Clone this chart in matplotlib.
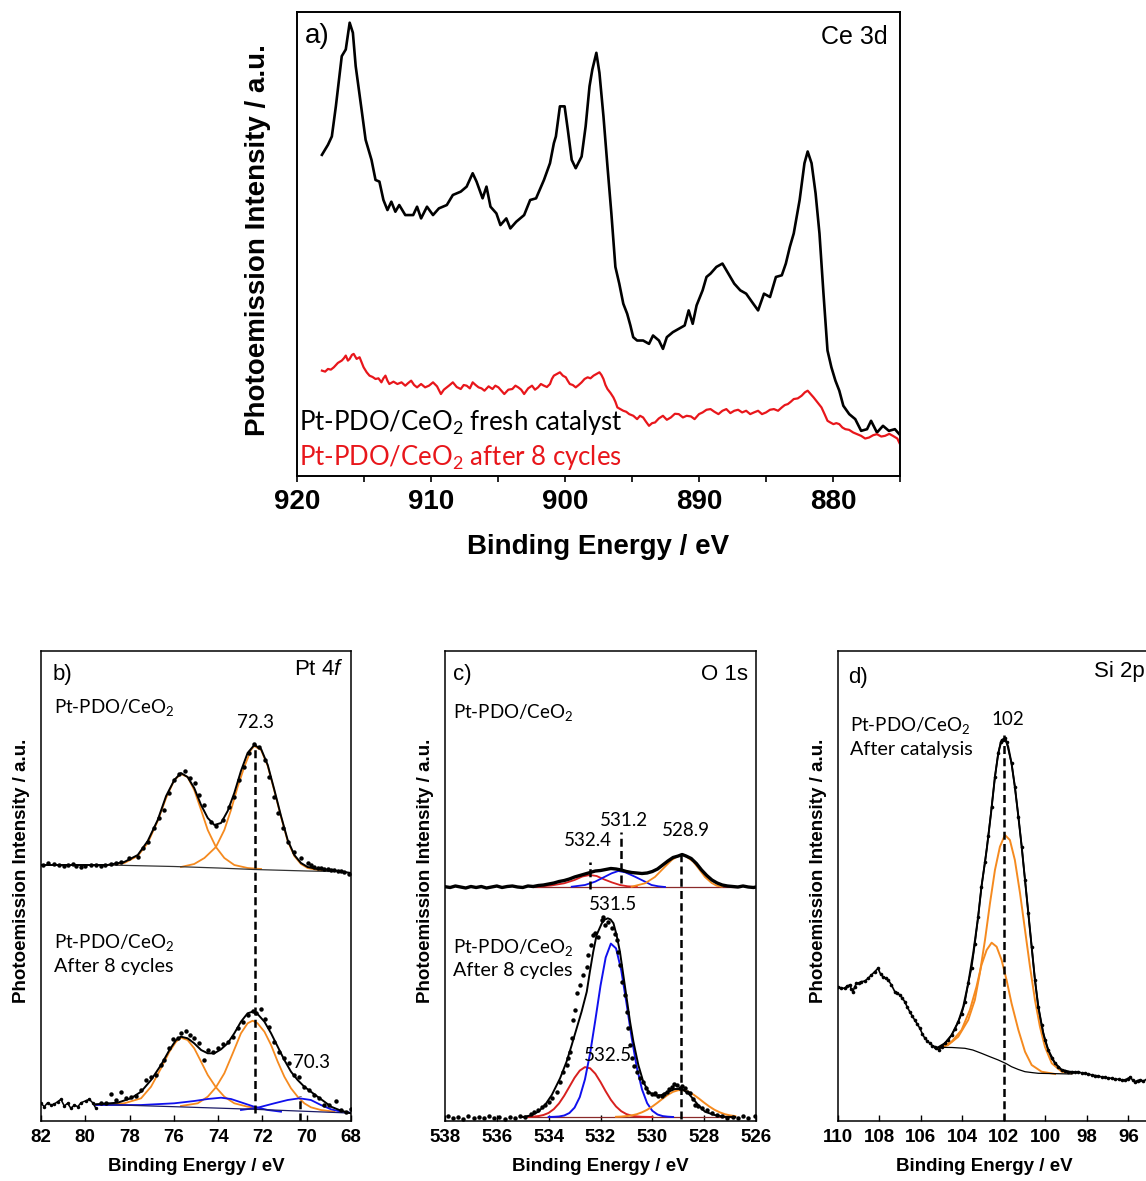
import matplotlib
matplotlib.use("Agg")
import matplotlib.pyplot as plt
from matplotlib.ticker import MultipleLocator

plt.rcParams['font.family'] = ['Liberation Sans', 'DejaVu Sans']
plt.rcParams['mathtext.fontset'] = 'custom'
plt.rcParams['mathtext.rm'] = 'Lato'
plt.rcParams['mathtext.it'] = 'Liberation Sans:italic'
plt.rcParams['mathtext.bf'] = 'Lato:bold'

# ---------------- Panel a: Ce 3d ----------------
ce_fresh = [(918.14,960),(917.69,990),(917.40,1015),(917.10,1105),(916.66,1255),(916.36,1275),(916.07,1355),
 (915.83,1325),(915.62,1225),(915.18,1095),(914.88,1005),(914.44,945),(914.14,885),(913.85,880),(913.55,825),
 (913.25,795),(912.96,820),(912.66,790),(912.37,810),(911.92,780),(911.33,780),(911.04,805),(910.74,770),
 (910.30,805),(909.85,780),(909.41,800),(908.82,810),(908.37,840),(907.78,850),(907.34,865),(906.89,905),
 (906.60,880),(906.15,830),(905.86,865),(905.56,805),(905.12,785),(904.82,750),(904.38,770),(904.08,740),
 (903.64,760),(903.05,780),(902.60,825),(902.16,830),(901.57,885),(901.12,935),(900.83,995),(900.68,1015),
 (900.38,1105),(900.03,1105),(899.79,1035),(899.50,945),(899.20,920),(898.76,955),(898.46,1045),(898.17,1165),
 (897.96,1215),(897.66,1265),(897.43,1205),(897.13,1075),(896.83,925),(896.54,785),(896.24,625),(895.95,575),
 (895.65,515),(895.36,485),(895.12,450),(894.91,415),(894.62,405),(894.17,405),(893.73,395),(893.43,420),
 (892.99,405),(892.69,380),(892.40,415),(891.95,430),(891.51,440),(891.07,450),(890.77,495),(890.47,455),
 (890.18,510),(889.73,555),(889.44,595),(889.14,605),(888.70,625),(888.25,635),(887.81,605),(887.37,575),
 (886.92,555),(886.48,545),(886.04,520),(885.59,495),(885.15,545),(884.70,535),(884.26,595),(883.82,600),
 (883.52,635),(883.22,685),(882.93,725),(882.49,825),(882.13,935),(881.89,970),(881.60,935),(881.30,845),
 (881.01,725),(880.71,545),(880.41,375),(880.12,325),(879.82,285),(879.53,255),(879.23,210),(878.79,185),
 (878.34,170),(877.90,135),(877.46,140),(877.16,165),(876.72,130),(876.27,150),(875.83,135),(875.38,140),
 (874.94,120)]
ce_aged = [(918.14,315),(917.9,312),(917.69,320),(917.47,318),(917.25,325),(916.95,338),(916.66,345),(916.5,352),
 (916.36,360),(916.2,345),(916.07,350),(915.9,362),(915.77,365),(915.55,350),(915.33,355),(915.18,340),(915.03,325),
 (914.8,310),(914.59,300),(914.36,296),(914.14,290),(913.92,292),(913.70,280),(913.55,292),(913.40,300),(913.25,285),
 (913.11,275),(912.8,282),(912.51,275),(912.2,280),(911.92,270),(911.7,278),(911.48,285),(911.26,272),(911.04,265),
 (910.74,275),(910.44,265),(910.15,270),(909.85,280),(909.55,268),(909.26,245),(909.04,258),(908.82,265),(908.6,272),
 (908.37,280),(908.08,266),(907.78,260),(907.56,272),(907.34,270),(907.1,262),(906.89,280),(906.67,272),(906.45,265),
 (906.23,262),(906.01,255),(905.7,268),(905.41,260),(905.2,270),(904.97,265),(904.75,255),(904.53,245),(904.23,258),
 (903.93,260),(903.7,270),(903.49,265),(903.27,258),(903.05,245),(902.75,262),(902.46,270),(902.24,258),(902.01,265),
 (901.8,275),(901.57,270),(901.35,266),(901.12,275),(900.98,290),(900.83,300),(900.6,305),(900.38,310),(900.16,300),
 (899.94,295),(899.8,285),(899.64,275),(899.42,272),(899.20,265),(898.98,272),(898.76,280),(898.54,290),(898.31,295),
 (898.1,292),(897.87,300),(897.65,305),(897.43,310),(897.28,302),(897.13,290),(896.98,272),(896.83,260),(896.6,248),
 (896.39,235),(896.24,222),(896.09,205),(895.87,200),(895.65,195),(895.43,192),(895.21,185),(894.9,180),(894.62,170),
 (894.4,180),(894.17,175),(893.95,162),(893.73,150),(893.5,158),(893.28,160),(893.0,172),(892.69,180),(892.4,168),
 (892.10,175),(891.8,186),(891.51,185),(891.2,175),(890.92,180),(890.6,178),(890.33,170),(890.0,185),(889.73,190),
 (889.44,198),(889.14,200),(888.85,192),(888.55,185),(888.25,195),(887.96,200),(887.66,188),(887.37,195),(887.08,198),
 (886.78,190),(886.48,195),(886.18,185),(885.9,190),(885.59,195),(885.3,185),(885.00,190),(884.7,198),(884.41,200),
 (884.1,195),(883.82,205),(883.6,212),(883.37,215),(883.15,222),(882.93,230),(882.63,232),(882.34,240),(882.1,250),
 (881.89,255),(881.67,245),(881.45,235),(881.15,220),(880.86,205),(880.63,185),(880.41,165),(880.2,160),(879.97,155),
 (879.75,158),(879.53,155),(879.3,145),(879.08,140),(878.8,138),(878.49,130),(878.2,125),(877.90,120),(877.6,112),
 (877.31,115),(877.0,122),(876.72,125),(876.4,118),(876.12,120),(875.8,126),(875.53,120),(875.2,112),(874.94,90)]
ce_ticks = [920, 910, 900, 890, 880]

# ---------------- Panel b: Pt 4f ----------------
pt_fresh_data = [(81.92,248),(81.70,250),(81.40,249),(81.20,248),(80.95,247),(80.80,248),(80.57,249),(80.40,247),
 (80.19,246),(80.00,247),(79.74,248),(79.50,248),(79.29,247),(79.10,248),(78.84,249),(78.60,250),(78.39,251),
 (78.01,255),(77.63,256),(77.41,265),(77.18,271),(76.88,285),(76.66,295),(76.46,303),(76.20,320),(75.98,333),
 (75.75,339),(75.50,342),(75.26,335),(75.05,330),(74.85,318),(74.62,308),(74.32,291),(74.10,287),(73.80,293),
 (73.49,306),(73.27,316),(73.04,333),(72.82,346),(72.59,360),(72.37,369),(72.14,366),(71.88,353),(71.69,336),
 (71.46,316),(71.31,300),(71.09,285),(70.86,271),(70.56,261),(70.26,255),(69.96,250),(69.80,248),(69.66,246),
 (69.50,245),(69.36,245),(69.20,244),(69.05,244),(68.90,243),(68.75,243),(68.60,242),(68.45,242),(68.30,241),
 (68.08,239)]
pt_fresh_fit = [(82.0,248),(80.5,248),(79.0,248),(78.24,251),(77.63,258),(77.18,272),(76.73,293),(76.35,317),
 (75.98,333),(75.68,340),(75.38,336),(75.08,325),(74.77,308),(74.47,295),(74.17,288),(73.87,290),(73.57,302),
 (73.27,320),(72.97,342),(72.67,360),(72.37,368),(72.06,364),(71.76,348),(71.46,323),(71.16,297),(70.86,273),
 (70.56,258),(70.26,250),(69.96,246),(69.51,244),(68.90,243),(68.00,240)]
pt_fresh_comp1 = [(79.0,248),(78.24,250),(77.63,257),(77.18,270),(76.73,292),(76.35,315),(75.98,333),(75.68,339),
 (75.38,336),(75.08,323),(74.77,303),(74.47,283),(74.10,266),(73.72,255),(73.27,248),(72.67,245),(72.06,244)]
pt_fresh_comp2 = [(75.68,246),(75.08,249),(74.62,255),(74.10,266),(73.72,283),(73.42,303),(73.12,326),(72.82,346),
 (72.52,363),(72.37,367),(72.06,363),(71.76,347),(71.46,322),(71.16,296),(70.86,272),(70.56,257),(70.26,249),
 (69.96,245),(69.51,243),(68.90,242)]
pt_fresh_base = [(79.0,248),(76.0,246.5),(74.0,245),(72.37,243.5),(70.0,242),(68.9,241.5)]

pt_aged_data = [(82.00,9.7),(81.85,6.3),(81.70,10.3),(81.55,8),(81.40,9),(81.25,11.3),(81.10,13.7),(80.95,7),
 (80.80,9.7),(80.65,4.7),(80.49,8),(80.34,6.3),(80.19,10.3),(79.97,12.3),(79.82,13.7),(79.67,10.3),(79.52,4.7),
 (79.29,10.3),(79.06,9.7),(78.84,19),(78.61,13),(78.39,21.3),(78.16,14.7),(77.94,16.3),(77.71,17),(77.48,23),
 (77.26,33),(77.03,35.7),(76.81,38),(76.58,48),(76.43,53),(76.20,64.7),(76.05,73.7),(75.83,74.7),(75.68,79.7),
 (75.45,82.3),(75.26,78),(75.08,75.3),(74.85,69.7),(74.62,53),(74.47,63),(74.25,61.3),(74.02,64.7),(73.80,69),
 (73.57,71.3),(73.34,76.3),(73.12,84.7),(72.89,91.3),(72.67,98),(72.44,102.3),(72.29,100.3),(72.06,104.3),
 (71.88,93.7),(71.69,85.7),(71.46,71.3),(71.24,61.3),(71.01,54.7),(70.79,49.7),(70.56,38),(70.33,35.7),
 (70.11,26.3),(69.88,23),(69.66,18),(69.43,14.7),(69.20,8),(68.98,8),(68.68,12),(68.45,3),(68.23,1.3),(68.00,3.7)]
pt_aged_fit = [(79.52,8.7),(78.54,10.3),(77.94,14.7),(77.48,21.3),(77.03,33),(76.58,48),(76.20,63),(75.90,73),
 (75.68,76.3),(75.38,74.7),(75.08,69.7),(74.77,63),(74.47,59.7),(74.17,59.7),(73.87,63.7),(73.57,69.7),
 (73.27,79.7),(72.97,91.3),(72.67,99.7),(72.44,101.3),(72.22,99),(71.91,91.3),(71.61,79.7),(71.31,66.3),
 (71.01,53),(70.71,41.3),(70.41,33),(70.11,26.3),(69.81,21.3),(69.51,16.3),(69.20,11.3),(68.90,6.3),
 (68.45,2.3),(68.00,-0.3)]
pt_aged_comp1 = [(79.52,8),(78.24,9.7),(77.48,14.7),(77.03,26.3),(76.58,44.7),(76.20,61.3),(75.90,71.3),
 (75.68,75.3),(75.38,73),(75.08,64.7),(74.77,51.3),(74.47,38),(74.10,25.7),(73.72,16.3),(73.27,9.7),
 (72.67,6.3),(72.06,4.7)]
pt_aged_comp2 = [(75.68,7),(74.92,9.7),(74.47,16.3),(74.10,25.7),(73.72,39.7),(73.34,59.7),(72.97,79.7),
 (72.67,89.7),(72.44,92.3),(72.22,89.7),(71.91,81.3),(71.61,68),(71.31,51.3),(71.01,36.3),(70.71,24.7),
 (70.41,16.3),(70.11,9.7),(69.81,5.7),(69.36,3),(68.75,1.3)]
pt_aged_metal1 = [(79.52,8),(77.48,8),(75.98,9.7),(75.08,12),(74.47,14),(73.87,15.3),(73.42,14),(72.97,10.7),
 (72.37,6.3),(71.76,3),(71.16,1.3)]
pt_aged_metal2 = [(72.97,3),(72.22,5.3),(71.46,9.7),(70.86,13),(70.33,14.7),(69.81,13),(69.36,8),(68.90,3.7),
 (68.45,1.3),(68.00,0.3)]
pt_aged_base = [(79.52,8.7),(75.98,6.3),(72.37,3.7),(68.45,0.3),(68.00,-0.3)]
pt_peak_main = 72.35
pt_peak_metal = 70.3

# ---------------- Panel c: O 1s ----------------
o_fresh_data = [(538.00,223.3),(537.80,222.5),(537.60,224),(537.40,223),(537.20,222),(537.00,223.5),(536.80,222.5),
 (536.60,223.5),(536.40,222),(536.20,223),(536.00,224),(535.80,222.5),(535.60,223.5),(535.40,224),(535.20,223),
 (535.00,222.5),(534.80,224),(534.60,223.5),(534.40,224.5),(534.20,225),(534.00,226),(533.80,227),(533.60,228.5),
 (533.40,229.5),(533.20,231),(533.00,233),(532.80,234.5),(532.60,236),(532.40,237.5),(532.20,239),(532.00,239.5),
 (531.80,240.5),(531.60,241.5),(531.40,241),(531.20,240),(531.00,238.5),(530.80,237.5),(530.60,237),(530.40,236.5),
 (530.20,237),(530.00,238.5),(529.80,241),(529.60,245),(529.40,249),(529.20,252.5),(529.00,254),(528.85,255.5),
 (528.70,254),(528.50,251.5),(528.30,246.5),(528.10,240),(527.90,234.5),(527.70,230),(527.50,227),(527.30,225),
 (527.10,224),(526.90,223.5),(526.70,223),(526.50,224),(526.30,223),(526.10,222.5),(526.00,223)]
o_fresh_red = [(534.4,223.3),(533.9,224.5),(533.4,226.7),(533.0,230),(532.7,233.5),(532.41,235),(532.15,234),
 (531.85,230.5),(531.55,227.5),(531.25,225),(530.95,223.7),(530.6,223.2)]
o_fresh_blue = [(533.11,223.3),(532.60,225),(532.21,228.3),(531.83,233.3),(531.57,236.7),(531.31,239),(531.05,237.7),
 (530.67,233.3),(530.28,228.3),(530.03,225),(529.77,223.7),(529.51,223)]
o_fresh_orange = [(530.80,223.3),(530.28,226.7),(529.90,233),(529.51,243.3),(529.25,250),(529.00,254),(528.84,255),
 (528.68,253.3),(528.42,248.3),(528.23,242),(527.97,233),(527.71,227),(527.52,224.3),(527.32,223.3)]
o_fresh_base = [(534.6,223),(526.6,223)]

o_aged_data = [(537.9,-6),(537.7,-8),(537.5,-7),(537.3,-9),(537.1,-6),(536.9,-8),(536.7,-7),(536.5,-8),(536.3,-6),
 (536.1,-8),(535.9,-7),(535.7,-9),(535.5,-7),(535.3,-8),(535.1,-6),(534.9,-7),(534.7,-4),(534.55,-2),(534.40,0),
 (534.27,3),(534.14,5),(534.0,8),(533.88,11.7),(533.69,18.3),(533.56,28.3),(533.43,38.3),(533.31,45),(533.24,51.7),
 (533.18,58.3),(533.10,72),(533.05,90),(532.98,100),(532.92,116.7),(532.79,125),(532.66,135),(532.53,143),
 (532.47,155),(532.35,165),(532.28,175),(532.21,176.7),(532.08,173.3),(531.95,190),(531.89,193.3),(531.83,185),
 (531.70,188),(531.57,181.7),(531.45,176),(531.38,170),(531.31,158.3),(531.25,145),(531.18,128.3),(531.05,115),
 (530.99,98.3),(530.95,81.7),(530.86,65),(530.80,51.7),(530.70,44),(530.60,38.3),(530.48,32),(530.35,28.3),
 (530.25,22),(530.15,18.3),(530.02,16),(529.90,16.7),(529.77,14),(529.64,14.3),(529.55,16),(529.45,18.3),
 (529.35,21),(529.25,23.3),(529.15,26),(529.06,25),(528.93,21.7),(528.84,24),(528.74,21.7),(528.65,18),
 (528.55,16.7),(528.45,11),(528.35,5),(528.22,4),(528.10,1.7),(527.9,0),(527.7,-3),(527.52,-5),(527.3,-6),
 (527.1,-8),(526.9,-7),(526.7,-8),(526.5,-6),(526.3,-8),(526.05,-6)]
o_aged_fit = [(535.0,-7),(534.7,-5.5),(534.40,-1.7),(534.14,5),(533.88,15),(533.56,31.7),(533.31,48.3),(533.11,65),
 (532.92,81.7),(532.73,98.3),(532.53,118.3),(532.41,138.3),(532.28,158.3),(532.15,175),(531.95,186.7),(531.84,190.3),
 (531.72,191.7),(531.61,190.5),(531.50,186.7),(531.38,175),(531.25,158.3),(531.12,135),(530.99,111.7),(530.86,88.3),
 (530.73,68.3),(530.54,45),(530.35,28.3),(530.15,18.3),(529.90,14.3),(529.64,15),(529.38,18.3),(529.13,21),
 (528.87,21),(528.61,16.7),(528.23,5),(527.97,-1.7),(527.6,-5),(527.2,-6.8),(526.8,-7)]
o_aged_red = [(535.0,-7.0),(534.8,-6.9),(534.6,-6.6),(534.4,-6.1),(534.2,-5.0),(534.0,-2.9),(533.8,0.9),(533.6,6.6),
 (533.4,14.3),(533.2,23.3),(533.0,32.3),(532.8,39.4),(532.6,42.9),(532.4,41.7),(532.2,36.3),(532.0,28.0),
 (531.8,18.7),(531.6,10.2),(531.4,3.5),(531.2,-1.2),(531.0,-4.1),(530.8,-5.7),(530.6,-6.4),(530.4,-6.8),
 (530.2,-6.9),(530.0,-7.0)]
o_aged_blue = [(534.0,-7.0),(533.8,-6.85),(533.6,-6.5),(533.4,-5.5),(533.2,-3.0),(533.0,2.4),(532.8,12.9),(532.6,30.6),
 (532.4,56.8),(532.2,89.8),(532.0,124.3),(531.8,152.5),(531.6,166.4),(531.4,161.6),(531.2,139.8),(531.0,107.3),
 (530.8,72.7),(530.6,42.7),(530.4,20.7),(530.2,6.8),(530.0,-0.8),(529.8,-4.5),(529.6,-6.1),(529.4,-6.7),(529.2,-7.0)]
o_aged_orange = [(531.4,-6.8),(531.2,-6.6),(531.0,-6.1),(530.8,-5.4),(530.6,-4.2),(530.4,-2.3),(530.2,0.2),(530.0,3.5),
 (529.8,7.3),(529.6,11.4),(529.4,15.2),(529.2,18.2),(529.0,19.8),(528.8,19.8),(528.6,18.2),(528.4,15.2),
 (528.2,11.4),(528.0,7.3),(527.8,3.5),(527.6,0.2),(527.4,-2.3),(527.2,-4.2),(527.0,-5.4),(526.8,-6.1)]
o_aged_base = [(534.8,-7.0),(526.8,-7.0)]
o_peaks_fresh = [532.4, 531.2, 528.9]

# ---------------- Panel d: Si 2p ----------------
si_data = [(110.00,133.3),(109.84,132),(109.68,131.7),(109.56,134),(109.44,135),(109.36,131),(109.28,128.3),
 (109.20,133),(109.11,136.7),(109.00,137),(108.87,138.3),(108.70,139),(108.55,141.7),(108.39,145),(108.23,148.3),
 (108.07,151.7),(107.95,146),(107.83,143.3),(107.70,142),(107.58,140),(107.42,135),(107.26,128.3),(107.14,127),
 (107.02,125),(106.90,122),(106.78,118.3),(106.66,113),(106.54,108.3),(106.42,104),(106.30,100),(106.18,96),
 (106.05,91.7),(105.93,86),(105.81,81.7),(105.69,79),(105.57,76.7),(105.45,74.5),(105.33,73.3),(105.25,71.7),
 (105.15,70.5),(104.98,73.5),(104.85,76.7),(104.68,80),(104.52,85),(104.36,91),(104.20,98.3),(104.04,106),
 (103.88,118),(103.72,136.7),(103.56,152),(103.40,176),(103.24,203.3),(103.08,233.3),(102.91,258),(102.75,284),
 (102.59,313),(102.43,343.3),(102.27,367),(102.15,378),(102.05,380),(101.95,382),(101.87,378),(101.63,356.7),
 (101.47,333.3),(101.30,303.3),(101.14,273.3),(100.98,240),(100.82,206.7),(100.66,173.3),(100.50,140),
 (100.34,113.3),(100.18,95),(100.02,80),(99.86,70),(99.70,62),(99.53,56.7),(99.37,53),(99.21,50),(99.05,49.5),
 (98.89,48.5),(98.73,48.3),(98.57,48),(98.41,48.3),(98.25,47),(98.08,46.7),(97.92,46),(97.76,45),(97.60,44.5),
 (97.44,44),(97.28,43),(97.12,42.7),(96.96,42),(96.80,41.7),(96.64,41),(96.47,40.7),(96.31,40),(96.15,40),
 (96.03,41.5),(95.91,42.7),(95.79,40),(95.67,38.3),(95.55,39.5),(95.43,40),(95.27,39),(95.12,40.7),(95.00,39)]
si_fit = [(105.25,71.7),(104.85,76.7),(104.52,85),(104.20,98.3),(103.96,113.3),(103.72,136.7),(103.48,166.7),
 (103.24,203.3),(103.08,233.3),(102.83,270),(102.62,306.7),(102.43,343.3),(102.27,366.7),(102.11,380),
 (101.95,381.7),(101.79,373.3),(101.63,356.7),(101.47,333.3),(101.30,303.3),(101.14,273.3),(100.98,240),
 (100.82,206.7),(100.66,173.3),(100.50,140),(100.34,113.3),(100.10,86.7),(99.86,70),(99.53,56.7),(99.21,50),
 (98.73,47.3)]
si_comp1 = [(105.17,71.7),(104.69,75),(104.20,83.3),(103.72,100),(103.40,120),(103.16,146.7),(102.91,180),
 (102.67,216.7),(102.43,250),(102.19,273.3),(101.95,285),(101.71,280),(101.47,260),(101.22,226.7),(100.98,190),
 (100.74,153.3),(100.50,120),(100.26,93.3),(100.02,73.3),(99.69,56.7),(99.21,48.3),(98.73,46.7)]
si_comp2 = [(105.17,71.7),(104.52,78.3),(104.04,90),(103.64,110),(103.32,133.3),(103.08,155),(102.83,170),
 (102.59,177.3),(102.35,173.3),(102.11,160),(101.87,140),(101.63,116.7),(101.30,90),(100.98,68.3),(100.66,55),
 (100.18,48.3),(99.53,46)]
si_base = [(105.25,72.7),(104.5,72.5),(103.88,71.7),(103.5,70),(103.08,66.7),(102.7,63.5),(102.27,60),(101.9,56.5),
 (101.63,53.3),(101.3,50.5),(100.98,48.3),(100.6,47.3),(100.34,46.7),(98.73,46)]
si_peak = 102.0

# ---------------- styling ----------------
W, H = 1146, 1181
BLACK = 'black'
RED_A = '#e8161b'
ORANGE = '#f58a1f'
BLUE = '#1010ee'
RED_C = '#d8201f'
LATO = ['Lato', 'DejaVu Sans']
ARIAL = ['Liberation Sans', 'DejaVu Sans']

fig = plt.figure(figsize=(W / 100, H / 100), dpi=100)


def add_ax(l, t, r, b):
    return fig.add_axes([l / W, 1 - b / H, (r - l) / W, (b - t) / H])


def xs(p):
    return [q[0] for q in p]


def ys(p):
    return [q[1] for q in p]


def bold_ticks(ax):
    for lbl in ax.get_xticklabels():
        lbl.set_fontweight('bold')
        lbl.set_family(ARIAL)


# Panel a
axa = add_ax(297, 12, 900, 476)
axa.plot(xs(ce_fresh), ys(ce_fresh), color=BLACK, lw=1.9)
axa.plot(xs(ce_aged), ys(ce_aged), color=RED_A, lw=1.6)
axa.set_xlim(920, 875)
axa.set_ylim(0, 1387)
axa.set_xticks(ce_ticks)
axa.xaxis.set_minor_locator(MultipleLocator(5))
axa.tick_params(axis='x', which='both', direction='out', length=4.5, width=1.2, labelsize=20, pad=5, top=False)
axa.set_yticks([])
for s in axa.spines.values():
    s.set_linewidth(1.4)
bold_ticks(axa)
axa.text(-0.065, 0.509, 'Photoemission Intensity / a.u.', rotation=90, ha='center', va='center',
         transform=axa.transAxes, fontsize=20, fontweight='bold', family=ARIAL)
axa.text(0.499, -0.152, 'Binding Energy / eV', ha='center', va='center', transform=axa.transAxes,
         fontsize=20, fontweight='bold', family=ARIAL)
axa.text(0.013, 0.933, 'a)', transform=axa.transAxes, fontsize=20, family=ARIAL, ha='left', va='baseline')
axa.text(0.980, 0.931, 'Ce 3d', transform=axa.transAxes, fontsize=18, family=ARIAL, ha='right', va='baseline')
axa.text(0.003, 0.099, 'Pt-PDO/CeO$_2$ fresh catalyst', transform=axa.transAxes, fontsize=18.5, family=LATO,
         ha='left', va='baseline', color=BLACK)
axa.text(0.003, 0.024, 'Pt-PDO/CeO$_2$ after 8 cycles', transform=axa.transAxes, fontsize=18.5, family=LATO,
         ha='left', va='baseline', color=RED_A)


def style_bottom(ax, xlim, ylim):
    ax.set_xlim(*xlim)
    ax.set_ylim(*ylim)
    ax.xaxis.set_major_locator(MultipleLocator(2))
    ax.tick_params(axis='x', which='both', direction='in', length=4, width=1.0, labelsize=13.5, pad=6, top=False)
    ax.set_yticks([])
    for s in ax.spines.values():
        s.set_linewidth(1.1)
    bold_ticks(ax)
    ax.text(-0.062, 0.532, 'Photoemission Intensity / a.u.', rotation=90, ha='center', va='center',
            transform=ax.transAxes, fontsize=13.5, fontweight='bold', family=ARIAL)


DASH = dict(color=BLACK, lw=1.8, ls=(0, (3.2, 1.7)))
PANEL_FS = 16
NOTE_FS = 13.5
NOTE2_FS = 14.2

# Panel b
axb = add_ax(41, 651, 351, 1121)
for comp in (pt_fresh_comp1, pt_fresh_comp2, pt_aged_comp1, pt_aged_comp2):
    axb.plot(xs(comp), ys(comp), color=ORANGE, lw=1.3)
for comp in (pt_aged_metal1, pt_aged_metal2):
    axb.plot(xs(comp), ys(comp), color=BLUE, lw=1.3)
axb.plot(xs(pt_fresh_base), ys(pt_fresh_base), color='#333333', lw=0.9)
axb.plot(xs(pt_aged_base), ys(pt_aged_base), color='#1a1a66', lw=0.9)
axb.plot(xs(pt_fresh_fit), ys(pt_fresh_fit), color=BLACK, lw=1.4)
axb.plot(xs(pt_aged_fit), ys(pt_aged_fit), color=BLACK, lw=1.4)
axb.plot(xs(pt_fresh_data), ys(pt_fresh_data), 'o', color=BLACK, ms=3.2, mew=0)
axb.plot(xs(pt_aged_data)[:17], ys(pt_aged_data)[:17], '-o', color=BLACK, lw=1.1, ms=2.5, mew=0)
axb.plot(xs(pt_aged_data)[17:], ys(pt_aged_data)[17:], 'o', color=BLACK, ms=3.2, mew=0)
axb.plot([pt_peak_main, pt_peak_main], [0, 369], **DASH)
axb.plot([pt_peak_metal, pt_peak_metal], [-8, 17], **DASH)
style_bottom(axb, (82, 68), (-8, 462))
axb.text(0.5, -0.096, 'Binding Energy / eV', ha='center', va='center', transform=axb.transAxes,
         fontsize=13.5, fontweight='bold', family=ARIAL)
axb.text(0.038, 0.938, 'b)', transform=axb.transAxes, fontsize=PANEL_FS, family=ARIAL, va='baseline')
axb.text(0.975, 0.949, r'Pt 4$\mathit{f}$', transform=axb.transAxes, fontsize=PANEL_FS, family=ARIAL, ha='right',
         va='baseline')
axb.text(0.043, 0.868, 'Pt-PDO/CeO$_2$', transform=axb.transAxes, fontsize=NOTE_FS, family=LATO, va='baseline')
axb.text(0.6935, 0.836, '72.3', transform=axb.transAxes, fontsize=NOTE_FS, family=LATO, ha='center', va='baseline')
axb.text(0.043, 0.368, 'Pt-PDO/CeO$_2$', transform=axb.transAxes, fontsize=NOTE_FS, family=LATO, va='baseline')
axb.text(0.043, 0.318, 'After 8 cycles', transform=axb.transAxes, fontsize=NOTE2_FS, family=LATO, va='baseline')
axb.text(0.873, 0.1134, '70.3', transform=axb.transAxes, fontsize=NOTE_FS, family=LATO, ha='center', va='baseline')

# Panel c
axc = add_ax(445, 651, 756, 1121)
axc.plot(xs(o_fresh_base), ys(o_fresh_base), color='#8a2a2a', lw=0.9)
axc.plot(xs(o_aged_base), ys(o_aged_base), color='#8a2a2a', lw=0.9)
axc.plot(xs(o_fresh_red), ys(o_fresh_red), color=RED_C, lw=1.3)
axc.plot(xs(o_fresh_blue), ys(o_fresh_blue), color=BLUE, lw=1.3)
axc.plot(xs(o_fresh_orange), ys(o_fresh_orange), color=ORANGE, lw=1.3)
axc.plot(xs(o_fresh_data), ys(o_fresh_data), '-', color=BLACK, lw=2.4)
axc.plot(xs(o_aged_red), ys(o_aged_red), color=RED_C, lw=1.4)
axc.plot(xs(o_aged_blue), ys(o_aged_blue), color=BLUE, lw=1.4)
axc.plot(xs(o_aged_orange), ys(o_aged_orange), color=ORANGE, lw=1.4)
axc.plot(xs(o_aged_fit), ys(o_aged_fit), color=BLACK, lw=1.4)
axc.plot(xs(o_aged_data), ys(o_aged_data), 'o', color=BLACK, ms=3.2, mew=0)
axc.plot([o_peaks_fresh[0]] * 2, [220.7, 248.3], **DASH)
axc.plot([o_peaks_fresh[1]] * 2, [226.7, 278.3], **DASH)
axc.plot([o_peaks_fresh[2]] * 2, [-9, 258], **DASH)
style_bottom(axc, (538, 526), (-11, 459))
axc.text(0.5, -0.096, 'Binding Energy / eV', ha='center', va='center', transform=axc.transAxes,
         fontsize=13.5, fontweight='bold', family=ARIAL)
axc.text(0.027, 0.9375, 'c)', transform=axc.transAxes, fontsize=PANEL_FS, family=ARIAL, va='baseline')
axc.text(0.975, 0.9375, 'O 1s', transform=axc.transAxes, fontsize=PANEL_FS, family=ARIAL, ha='right', va='baseline')
axc.text(0.027, 0.858, 'Pt-PDO/CeO$_2$', transform=axc.transAxes, fontsize=NOTE_FS, family=LATO, va='baseline')
axc.text(0.461, 0.585, '532.4', transform=axc.transAxes, fontsize=NOTE_FS, family=LATO, ha='center', va='baseline')
axc.text(0.5756, 0.628, '531.2', transform=axc.transAxes, fontsize=NOTE_FS, family=LATO, ha='center', va='baseline')
axc.text(0.774, 0.607, '528.9', transform=axc.transAxes, fontsize=NOTE_FS, family=LATO, ha='center', va='baseline')
axc.text(0.541, 0.449, '531.5', transform=axc.transAxes, fontsize=NOTE_FS, family=LATO, ha='center', va='baseline')
axc.text(0.027, 0.357, 'Pt-PDO/CeO$_2$', transform=axc.transAxes, fontsize=NOTE_FS, family=LATO, va='baseline')
axc.text(0.027, 0.309, 'After 8 cycles', transform=axc.transAxes, fontsize=NOTE2_FS, family=LATO, va='baseline')
axc.text(0.523, 0.128, '532.5', transform=axc.transAxes, fontsize=NOTE_FS, family=LATO, ha='center', va='baseline')

# Panel d
axd = add_ax(838, 651, 1149, 1121)
axd.plot(xs(si_comp1), ys(si_comp1), color=ORANGE, lw=1.4)
axd.plot(xs(si_comp2), ys(si_comp2), color=ORANGE, lw=1.4)
axd.plot(xs(si_base), ys(si_base), color=BLACK, lw=0.9)
axd.plot(xs(si_fit), ys(si_fit), color=BLACK, lw=1.4)
axd.plot(xs(si_data), ys(si_data), '-o', color=BLACK, lw=1.2, ms=2.6, mew=0)
axd.plot([si_peak, si_peak], [-1, 385], **DASH)
style_bottom(axd, (110, 95), (-1, 469))
axd.text(0.471, -0.096, 'Binding Energy / eV', ha='center', va='center', transform=axd.transAxes,
         fontsize=13.5, fontweight='bold', family=ARIAL)
axd.text(0.033, 0.932, 'd)', transform=axd.transAxes, fontsize=PANEL_FS, family=ARIAL, va='baseline')
axd.text(0.985, 0.945, 'Si 2p', transform=axd.transAxes, fontsize=PANEL_FS, family=ARIAL, ha='right', va='baseline')
axd.text(0.0386, 0.830, 'Pt-PDO/CeO$_2$', transform=axd.transAxes, fontsize=NOTE_FS, family=LATO, va='baseline')
axd.text(0.0386, 0.779, 'After catalysis', transform=axd.transAxes, fontsize=NOTE2_FS, family=LATO, va='baseline')
axd.text(0.5456, 0.843, '102', transform=axd.transAxes, fontsize=NOTE_FS, family=LATO, ha='center', va='baseline')

fig.savefig('out.png', dpi=100)
